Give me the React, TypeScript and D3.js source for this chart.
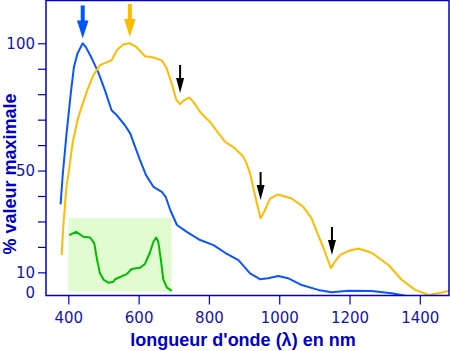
import { useEffect, useRef } from "react";
import * as d3 from "d3";

// blue curve (nm, % of max)
const blueNm = [378, 384, 395, 407, 416, 426, 441, 450, 467, 485, 504, 523, 538, 561, 576, 590, 604, 621, 642, 666, 677, 690, 709, 737, 775, 813, 846, 884, 917, 945, 968, 997, 1025, 1064, 1111, 1149, 1197, 1263, 1320, 1358, 1370];
const blueVal = [36.7, 48.2, 64.6, 80.3, 90.7, 96, 100, 98.5, 94, 88.7, 81.6, 73.7, 71.7, 67.8, 64.6, 59.3, 54.1, 48.2, 43.6, 41.6, 39.7, 34.5, 28.6, 25.9, 22.7, 20.7, 17.7, 14.8, 9.6, 7.3, 7.7, 8.6, 7.7, 5.0, 3.1, 2.2, 2.8, 2.7, 1.8, 0.8, 0.2];

// orange curve
const orangeNm = [381, 386, 395, 400, 412, 426, 438, 454, 471, 490, 509, 523, 538, 556, 575, 594, 618, 642, 666, 680, 694, 707, 718, 729, 744, 756, 775, 803, 846, 874, 898, 907, 917, 931, 947, 957, 974, 997, 1035, 1068, 1092, 1111, 1130, 1147, 1158, 1173, 1197, 1225, 1263, 1311, 1349, 1387, 1425, 1453, 1483];
const orangeVal = [16.8, 28.6, 44.3, 48.2, 60.6, 69.8, 75, 81.6, 87.4, 91.4, 92.5, 93.3, 97.3, 99.5, 100, 98.5, 94.9, 94.4, 93.3, 90.1, 84.2, 77.9, 76.1, 77.6, 78.7, 77, 73, 69.1, 61.3, 58.7, 55.4, 52.8, 48.9, 40.3, 31.2, 33.8, 39.0, 40.6, 39.0, 35.8, 31.2, 24.6, 18.1, 11.6, 14.2, 16.8, 18.4, 19.4, 17.7, 12.9, 7, 3.1, 1.1, 1.8, 2.7];

// green inset curve
const greenNm = [403, 422, 443, 462, 474, 481, 490, 501, 515, 528, 533, 566, 580, 604, 618, 632, 642, 650, 656, 664, 670, 680, 694];
const greenVal = [24.6, 25.9, 24.0, 23.7, 21.4, 15.5, 9.6, 7.0, 5.9, 6.3, 7.3, 9.3, 11.3, 11.8, 13.3, 17.7, 22, 23.7, 22, 14.2, 7.3, 4.1, 2.7];
const insetNm = [400, 694];
const insetVal = [2.4, 31.4];

// arrows: position, tip value, colour, kind
const arrowNm = [441, 575, 718, 947, 1150];
const arrowTip = [101.9, 102.5, 80.5, 38.4, 16.8];
const arrowColor = ["#0055ff", "#ffbb00", "#000000", "#000000", "#000000"];
const arrowBig = [true, true, false, false, false];

const xTicks = [400, 600, 800, 1000, 1200, 1400];
const yTicks = [10, 20, 30, 40, 50, 60, 70, 80, 90, 100];
const yLabels = [10, 50, 100];

export default function App() {
    const chartRef = useRef<SVGSVGElement>(null);

    useEffect(() => {
        if (!chartRef.current) return;
        d3.select(chartRef.current).selectAll("*").remove();

        const W = 450;
        const H = 351;
        const left = 46;
        const right = 449;
        const top = 0.5;
        const bottom = 295.5;

        const svg = d3.select(chartRef.current).attr("width", W).attr("height", H);

        const x = d3.scaleLinear().domain([336.5, 1483]).range([left, right]);
        const y = d3.scaleLinear().domain([0, 100]).range([297.8, 43.3]);

        const axisColor = "#0000cc";
        const tickText = "#1414b4";

        svg.append("defs")
            .append("clipPath")
            .attr("id", "plot")
            .append("rect")
            .attr("x", left)
            .attr("y", top)
            .attr("width", right - left)
            .attr("height", bottom - top);

        // inset box
        svg.append("rect")
            .attr("x", x(insetNm[0]))
            .attr("y", y(insetVal[1]))
            .attr("width", x(insetNm[1]) - x(insetNm[0]))
            .attr("height", y(insetVal[0]) - y(insetVal[1]))
            .attr("fill", "#e2fcd2");

        const line = d3
            .line<[number, number]>()
            .x((d) => x(d[0]))
            .y((d) => y(d[1]));

        const curves: [number[], number[], string][] = [
            [blueNm, blueVal, "#0a55ff"],
            [orangeNm, orangeVal, "#ffbb00"],
            [greenNm, greenVal, "#00bb00"],
        ];
        curves.forEach(([nm, val, color]) => {
            svg.append("path")
                .attr("clip-path", "url(#plot)")
                .attr("d", line(nm.map((n, i) => [n, val[i]] as [number, number])))
                .attr("fill", "none")
                .attr("stroke", color)
                .attr("stroke-width", 2)
                .attr("stroke-linejoin", "round");
        });

        // arrows
        arrowNm.forEach((nm, i) => {
            const cx = x(nm);
            const tip = y(arrowTip[i]);
            const big = arrowBig[i];
            const len = big ? 33 : 28;
            const headLen = big ? 18 : 15;
            const headW = big ? 11.5 : 8;
            const shaftW = big ? 4 : 2;
            const g = svg.append("g").attr("fill", arrowColor[i]);
            g.append("rect")
                .attr("x", cx - shaftW / 2)
                .attr("y", tip - len)
                .attr("width", shaftW)
                .attr("height", len - headLen + 1);
            g.append("path").attr(
                "d",
                `M${cx - headW / 2},${tip - headLen} L${cx + headW / 2},${tip - headLen} L${cx},${tip} Z`
            );
        });

        // frame
        svg.append("path")
            .attr("d", `M${left},${top} H${right} V${bottom} H${left} Z`)
            .attr("fill", "none")
            .attr("stroke", axisColor)
            .attr("stroke-width", 1.5);

        // y axis
        const yAxis = svg
            .append("g")
            .attr("transform", `translate(${left},0)`)
            .call(
                d3
                    .axisLeft(y)
                    .tickValues(yTicks)
                    .tickSize(8)
                    .tickPadding(3)
                    .tickFormat((d) => (yLabels.includes(d as number) ? String(d) : ""))
            );
        yAxis.select(".domain").remove();
        yAxis.selectAll("line").attr("stroke", axisColor).attr("stroke-width", 1.2);
        yAxis.selectAll("text")
            .attr("fill", tickText)
            .style("font-family", "DejaVu Sans, sans-serif")
            .style("font-size", "15px");

        svg.append("text")
            .attr("x", 35)
            .attr("y", bottom - 2)
            .attr("text-anchor", "end")
            .attr("dominant-baseline", "middle")
            .attr("fill", tickText)
            .style("font-family", "DejaVu Sans, sans-serif")
            .style("font-size", "15px")
            .text("0");

        // x axis
        const xAxis = svg
            .append("g")
            .attr("transform", `translate(0,${bottom})`)
            .call(d3.axisBottom(x).tickValues(xTicks).tickSize(9).tickPadding(8).tickFormat(d3.format("d")));
        xAxis.select(".domain").remove();
        xAxis.selectAll("line").attr("stroke", axisColor).attr("stroke-width", 1.2);
        xAxis.selectAll("text")
            .attr("fill", tickText)
            .style("font-family", "DejaVu Sans, sans-serif")
            .style("font-size", "15px");

        // axis titles
        svg.append("text")
            .attr("x", 243)
            .attr("y", 346)
            .attr("text-anchor", "middle")
            .attr("fill", "#0000c8")
            .style("font-family", "Liberation Sans, Arial, sans-serif")
            .style("font-weight", "bold")
            .style("font-size", "18px")
            .text("longueur d'onde (λ) en nm");

        svg.append("text")
            .attr("transform", "translate(15.5,174) rotate(-90)")
            .attr("text-anchor", "middle")
            .attr("fill", "#0000c8")
            .style("font-family", "Liberation Sans, Arial, sans-serif")
            .style("font-weight", "bold")
            .style("font-size", "18px")
            .text("% valeur maximale");
    }, []);

    return (
        <div style={{ position: "absolute", left: 0, top: 0 }}>
            <svg ref={chartRef} style={{ display: "block" }} />
        </div>
    );
}
